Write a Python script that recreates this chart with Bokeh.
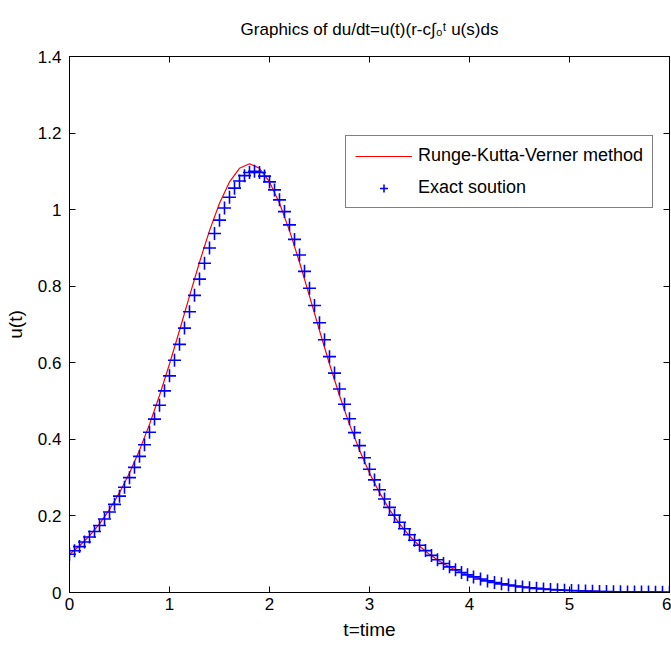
from bokeh.plotting import figure
from bokeh.models import (ColumnDataSource, LinearAxis, FixedTicker, CustomJSTickFormatter,
                          Legend, LegendItem, Range1d)
from bokeh.embed import file_html
from bokeh.resources import INLINE

# ---------------- data ----------------
t_rkv = [0.0, 0.1, 0.2, 0.3, 0.4, 0.5, 0.6, 0.7, 0.8, 0.9,
         1.0, 1.1, 1.2, 1.3, 1.4, 1.5, 1.6, 1.7, 1.8, 1.9,
         2.0, 2.1, 2.2, 2.3, 2.4, 2.5, 2.6, 2.7, 2.8, 2.9,
         3.0, 3.1, 3.2, 3.3, 3.4, 3.5, 3.6, 3.7, 3.8, 3.9,
         4.0, 4.1, 4.2, 4.3, 4.4, 4.5, 4.6, 4.7, 4.8, 4.9,
         5.0, 5.1, 5.2, 5.3, 5.4, 5.5, 5.6, 5.7, 5.8, 5.9, 6.0]
u_rkv = [0.1000, 0.1215, 0.1478, 0.1793, 0.2167, 0.2608, 0.3123, 0.3718, 0.4392, 0.5146,
         0.5969, 0.6843, 0.7741, 0.8626, 0.9452, 1.0169, 1.0725, 1.1080, 1.1200, 1.1080,
         1.0725, 1.0169, 0.9452, 0.8626, 0.7741, 0.6843, 0.5969, 0.5146, 0.4392, 0.3718,
         0.3123, 0.2608, 0.2167, 0.1793, 0.1478, 0.1215, 0.0996, 0.0815, 0.0666, 0.0544,
         0.0443, 0.0361, 0.0294, 0.0239, 0.0194, 0.0158, 0.0128, 0.0104, 0.0085, 0.0069,
         0.0056, 0.0045, 0.0037, 0.0030, 0.0024, 0.0020, 0.0016, 0.0013, 0.0011, 0.0009, 0.0007]

t_exact = [0.00, 0.05, 0.10, 0.15, 0.20, 0.25, 0.30, 0.35, 0.40, 0.45,
           0.50, 0.55, 0.60, 0.65, 0.70, 0.75, 0.80, 0.85, 0.90, 0.95,
           1.00, 1.05, 1.10, 1.15, 1.20, 1.25, 1.30, 1.35, 1.40, 1.45,
           1.50, 1.55, 1.60, 1.65, 1.70, 1.75, 1.80, 1.85, 1.90, 1.95,
           2.00, 2.05, 2.10, 2.15, 2.20, 2.25, 2.30, 2.35, 2.40, 2.45,
           2.50, 2.55, 2.60, 2.65, 2.70, 2.75, 2.80, 2.85, 2.90, 2.95,
           3.00, 3.05, 3.10, 3.15, 3.20, 3.25, 3.30, 3.35, 3.40, 3.45,
           3.50, 3.56, 3.62, 3.68, 3.74, 3.80, 3.86, 3.92, 3.98, 4.04,
           4.11, 4.18, 4.25, 4.32, 4.39, 4.46, 4.53, 4.60, 4.67, 4.74,
           4.81, 4.88, 4.95, 5.02, 5.09, 5.16, 5.23, 5.30, 5.37, 5.44,
           5.51, 5.58, 5.65, 5.72, 5.79, 5.86, 5.93, 6.00]
u_exact = [0.1000, 0.1090, 0.1199, 0.1319, 0.1450, 0.1593, 0.1749, 0.1919, 0.2103, 0.2302,
           0.2517, 0.2750, 0.3000, 0.3269, 0.3556, 0.3861, 0.4186, 0.4529, 0.4890, 0.5267,
           0.5659, 0.6065, 0.6481, 0.6906, 0.7333, 0.7762, 0.8186, 0.8599, 0.8997, 0.9375,
           0.9725, 1.0044, 1.0324, 1.0561, 1.0750, 1.0888, 1.0972, 1.1000, 1.0969, 1.0876,
           1.0724, 1.0516, 1.0256, 0.9949, 0.9603, 0.9223, 0.8815, 0.8388, 0.7947, 0.7498,
           0.7047, 0.6600, 0.6160, 0.5731, 0.5316, 0.4918, 0.4538, 0.4177, 0.3837, 0.3518,
           0.3219, 0.2941, 0.2683, 0.2444, 0.2223, 0.2020, 0.1834, 0.1664, 0.1507, 0.1365,
           0.1235, 0.1094, 0.0969, 0.0857, 0.0758, 0.0670, 0.0592, 0.0522, 0.0461, 0.0407,
           0.0351, 0.0303, 0.0262, 0.0226, 0.0195, 0.0168, 0.0145, 0.0125, 0.0108, 0.0093,
           0.0080, 0.0069, 0.0060, 0.0051, 0.0044, 0.0038, 0.0033, 0.0028, 0.0024, 0.0021,
           0.0018, 0.0016, 0.0013, 0.0012, 0.0010, 0.0009, 0.0007, 0.0006]

x_ticks = [0, 1, 2, 3, 4, 5, 6]
x_tick_labels = ["0", "1", "2", "3", "4", "5", "6"]
y_ticks = [0, 0.2, 0.4, 0.6, 0.8, 1.0, 1.2, 1.4]
y_tick_labels = ["0", "0.2", "0.4", "0.6", "0.8", "1", "1.2", "1.4"]

title_text = "Graphics of du/dt=u(t)(r-c\u222b\u2080\u1d57 u(s)ds"
x_label = "t=time"
y_label = "u(t)"
legend_labels = ["Runge-Kutta-Verner method", "Exact soution"]

# ---------------- figure ----------------
FONT = "Liberation Sans"

p = figure(width=671, height=645, output_backend="svg", toolbar_location=None,
           x_range=Range1d(0, 6), y_range=Range1d(0, 1.4),
           min_border_left=69, min_border_right=2, min_border_top=56, min_border_bottom=53)
p.background_fill_color = "white"
p.border_fill_color = "white"
p.outline_line_color = "black"
p.outline_line_width = 1
p.grid.visible = False

p.title.text = title_text
p.title.align = "center"
p.title.text_font = FONT
p.title.text_font_size = "17px"
p.title.text_font_style = "normal"
p.title.text_color = "black"
p.title.standoff = 35


def label_formatter(vals, labels):
    return CustomJSTickFormatter(
        args=dict(tick_vals=vals, tick_texts=labels),
        code="const i = tick_vals.findIndex(v => Math.abs(v - tick) < 1e-9); return i >= 0 ? tick_texts[i] : '';")


def style_axis(ax, show_labels):
    ax.axis_line_color = "black"
    ax.major_tick_line_color = "black"
    ax.major_tick_in = 6
    ax.major_tick_out = 0
    ax.minor_tick_line_color = None
    ax.major_label_text_font = FONT
    ax.major_label_text_font_size = "17px"
    ax.major_label_text_color = "black"
    ax.axis_label_text_font = FONT
    ax.axis_label_text_font_size = "19px"
    ax.axis_label_text_font_style = "normal"
    ax.axis_label_text_color = "black"
    if not show_labels:
        ax.major_label_text_font_size = "0px"
        ax.major_label_standoff = 0
        ax.axis_label_standoff = 0


xa = p.xaxis[0]
xa.ticker = FixedTicker(ticks=x_ticks)
xa.formatter = label_formatter(x_ticks, x_tick_labels)
xa.axis_label = x_label
style_axis(xa, True)
xa.major_label_standoff = 5
xa.axis_label_standoff = 6

ya = p.yaxis[0]
ya.ticker = FixedTicker(ticks=y_ticks)
ya.formatter = label_formatter(y_ticks, y_tick_labels)
ya.axis_label = y_label
style_axis(ya, True)
ya.major_label_standoff = 8
ya.axis_label_standoff = 9

top = LinearAxis(ticker=FixedTicker(ticks=x_ticks),
                 formatter=CustomJSTickFormatter(code="return ''"))
style_axis(top, False)
p.add_layout(top, "above")
right = LinearAxis(ticker=FixedTicker(ticks=y_ticks),
                   formatter=CustomJSTickFormatter(code="return ''"))
style_axis(right, False)
p.add_layout(right, "right")

src_rkv = ColumnDataSource(data=dict(t=t_rkv, u=u_rkv))
src_ex = ColumnDataSource(data=dict(t=t_exact, u=u_exact))

r_line = p.line("t", "u", source=src_rkv, line_color="#FF0000", line_width=1.2)
r_mark = p.scatter("t", "u", source=src_ex, marker="cross", size=13,
                   line_color="#0000FF", line_width=1.6)

legend = Legend(items=[LegendItem(label=legend_labels[0], renderers=[r_line]),
                       LegendItem(label=legend_labels[1], renderers=[r_mark])],
                location=(276, 384))
legend.border_line_color = "black"
legend.border_line_width = 1
legend.background_fill_color = "white"
legend.background_fill_alpha = 1
legend.label_text_font = FONT
legend.label_text_font_size = "18px"
legend.label_text_color = "black"
legend.glyph_width = 57
legend.glyph_height = 20
legend.label_height = 20
legend.label_standoff = 6
legend.spacing = 11
legend.padding = 9
legend.margin = 0
p.add_layout(legend)

open("out.html", "w").write(file_html(p, INLINE))
